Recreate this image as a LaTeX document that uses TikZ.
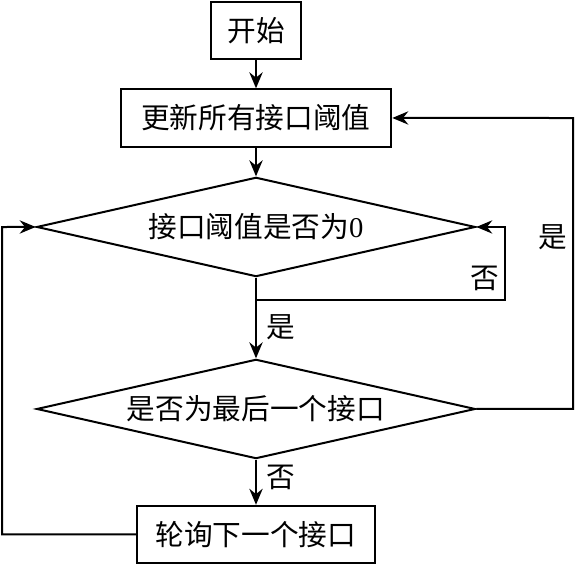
\documentclass[tikz,border=0pt]{standalone}
\usepackage{fontspec}
\setmainfont{Liberation Serif}
\newfontfamily\cjk{Noto Sans CJK SC}
\usetikzlibrary{arrows.meta,positioning,shapes.geometric}

\begin{document}
\begin{tikzpicture}[x=0.75pt,y=-0.75pt,line width=1.5pt,
   node distance=60pt,on grid,font=\fontsize{21.5}{26}\selectfont\cjk,
   flow/.style={-{Stealth[length=12pt,width=10pt,inset=4pt]}},
   procbox/.style={rectangle, draw, minimum height=43pt, inner sep=0pt},
   decide/.style={diamond, draw, aspect=4.4, inner sep=0pt, minimum width=329pt, minimum height=74.5pt}]
   \useasboundingbox (0,0) rectangle (576,565);

   \node[procbox, minimum width=67.5pt] (start) at (256,30.5) {开始};
   \node[procbox, minimum width=203pt]  (update) [below=65.6pt of start]  {更新所有接口阈值};
   \node[decide]                        (iszero) [below=81.75pt of update] {接口阈值是否为{\rmfamily 0}};
   \node[decide]                        (islast) [below=136.5pt of iszero] {是否为最后一个接口};
   \node[procbox, minimum width=178.5pt] (next)  [below=94.1pt of islast] {轮询下一个接口};

   \coordinate (zeroturn) at (505,300);
   \coordinate (lastturn) at (573,118);
   \coordinate (nextturn) at (2,227);

    \path[flow]
    (start)  edge (update)
    (update) edge (iszero)
    (iszero) edge node[right, xshift=4pt, pos=0.62] {是} (islast)
    (islast) edge node[right, xshift=4pt, pos=0.4]  {否} (next);

    \draw[flow] (iszero.south) |- (zeroturn) -- node[left, pos=0.3] {否} (zeroturn |- iszero.east) -- (iszero.east);
    \draw[flow] (islast.east) -- (islast.east -| lastturn) -- node[left, pos=0.59] {是} (lastturn) -- (update.east);
    \draw[flow] (next.west) -| (nextturn) -- (iszero.west);
\end{tikzpicture}
\end{document}
